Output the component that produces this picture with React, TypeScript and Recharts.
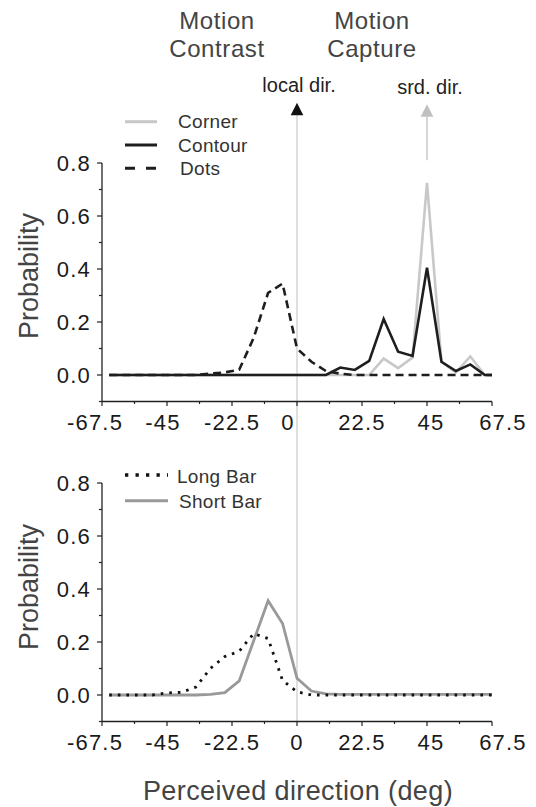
import { LineChart, Line, XAxis, YAxis, ReferenceLine, ReferenceDot } from 'recharts';

// perceived direction (deg), 5 deg bins plus the right edge
const angles = [-65, -60, -55, -50, -45, -40, -35, -30, -25, -20, -15, -10, -5, 0, 5, 10, 15, 20, 25, 30, 35, 40, 45, 50, 55, 60, 65, 67.5];

// top panel
const corner = [0, 0, 0, 0, 0, 0, 0, 0, 0, 0, 0, 0, 0, 0, 0, 0, 0, 0, 0, 0.062, 0.026, 0.066, 0.725, 0.05, 0.01, 0.07, 0, 0];
const contour = [0, 0, 0, 0, 0, 0, 0, 0, 0, 0, 0, 0, 0, 0, 0, 0, 0.028, 0.019, 0.053, 0.211, 0.088, 0.072, 0.405, 0.05, 0.015, 0.04, 0, 0];
const dots = [0, 0, 0, 0, 0, 0, 0, 0.005, 0.01, 0.02, 0.14, 0.31, 0.345, 0.1, 0.05, 0.015, 0.005, 0, 0, 0, 0, 0, 0, 0, 0, 0, 0, 0];

// bottom panel
const longBar = [0, 0, 0, 0, 0.008, 0.01, 0.03, 0.1, 0.145, 0.165, 0.232, 0.213, 0.055, 0.012, 0, 0, 0, 0, 0, 0, 0, 0, 0, 0, 0, 0, 0, 0];
const shortBar = [0, 0, 0, 0, 0, 0, 0, 0.002, 0.009, 0.053, 0.205, 0.356, 0.27, 0.063, 0.015, 0.004, 0.002, 0.002, 0.002, 0.002, 0.002, 0.002, 0.002, 0.002, 0.002, 0.002, 0.002, 0.002];

const xTicks = [-67.5, -56.25, -45, -33.75, -22.5, -11.25, 0, 11.25, 22.5, 33.75, 45, 56.25, 67.5];
const xLabels = [-67.5, -45, -22.5, 0, 22.5, 45, 67.5];
const yTicks = [-0.1, 0, 0.1, 0.2, 0.3, 0.4, 0.5, 0.6, 0.7, 0.8];

const topRows = angles.map((a, i) => ({ angle: a, corner: corner[i], contour: contour[i], dots: dots[i] }));
const bottomRows = angles.map((a, i) => ({ angle: a, longBar: longBar[i], shortBar: shortBar[i] }));

const FONT = '"Liberation Sans", Arial, Helvetica, sans-serif';
const AXIS = '#222';

// label nudges seen in the figure
const topNudge: Record<string, number> = { '-67.5': -7, '-45': -4, '0': -9, '45': 4, '67.5': 11 };
const bottomNudge: Record<string, number> = { '-67.5': -7, '-45': -4, '45': 4, '67.5': 11 };

const XTick = ({ x, y, payload, nudge }: any) => {
  const v = payload.value;
  const major = xLabels.includes(v);
  return (
    <g>
      <line x1={x} x2={x} y1={y} y2={y + (major ? 4.5 : 2.5)} stroke={AXIS} strokeWidth={1.2} />
      {major && (
        <text x={x + ((nudge && nudge[String(v)]) || 0)} y={y + 28} textAnchor="middle" fontFamily={FONT} fontSize={22} letterSpacing={1.2} fill="#1a1a1a">
          {v}
        </text>
      )}
    </g>
  );
};

const YTick = ({ x, y, payload }: any) => {
  const v = payload.value;
  const major = Math.round(v * 10) % 2 === 0;
  return (
    <g>
      <line x1={x - (major ? 5 : 3)} x2={x} y1={y} y2={y} stroke={AXIS} strokeWidth={1.2} />
      {major && (
        <text x={x - 11} y={y} dy="0.36em" textAnchor="end" fontFamily={FONT} fontSize={22} letterSpacing={1.2} fill="#1a1a1a">
          {v.toFixed(1)}
        </text>
      )}
    </g>
  );
};

const Arrow = ({ cx, cy, fill, text, tx }: any) => (
  <g>
    <path d={`M${cx - 6.3},${cy} L${cx},${cy - 12.5} L${cx + 6.3},${cy} Z`} fill={fill} />
    <text x={cx + tx} y={cy - 23} textAnchor="middle" fontFamily={FONT} fontSize={20} fill="#222">
      {text}
    </text>
  </g>
);

const axes = (nudge: Record<string, number>, xHeight: number) => [
  <XAxis
    key="x"
    type="number"
    dataKey="angle"
    domain={[-67.5, 67.5]}
    ticks={xTicks}
    interval={0}
    height={xHeight}
    tickSize={0}
    tickMargin={0}
    tickLine={false}
    axisLine={{ stroke: AXIS, strokeWidth: 1.3 }}
    tick={(p: any) => <XTick {...p} nudge={nudge} />}
  />,
  <YAxis
    key="y"
    type="number"
    domain={[-0.1, 0.8]}
    ticks={yTicks}
    interval={0}
    width={60}
    tickSize={0}
    tickMargin={0}
    tickLine={false}
    axisLine={{ stroke: AXIS, strokeWidth: 1.3 }}
    tick={(p: any) => <YTick {...p} />}
  />,
];

const TopPanel = () => (
  <LineChart width={536} height={440} data={topRows} margin={{ top: 163, right: 44, bottom: 0, left: 42 }}>
    <ReferenceLine segment={[{ x: 0, y: 0.98 }, { x: 0, y: -0.3 }]} stroke="#d4d4d4" strokeWidth={1.5} ifOverflow="visible" />
    <ReferenceLine segment={[{ x: 45, y: 0.975 }, { x: 45, y: 0.81 }]} stroke="#c8c8c8" strokeWidth={1.5} ifOverflow="visible" />
    {axes(topNudge, 38.5)}
    <Line type="linear" dataKey="corner" stroke="#c8c8c8" strokeWidth={2.6} dot={false} isAnimationActive={false} />
    <Line type="linear" dataKey="contour" stroke="#1e1e1e" strokeWidth={2.6} dot={false} isAnimationActive={false} />
    <Line type="linear" dataKey="dots" stroke="#1e1e1e" strokeWidth={2.6} strokeDasharray="8 5" dot={false} isAnimationActive={false} />
    <ReferenceDot x={0} y={0.98} ifOverflow="visible" shape={(p: any) => <Arrow {...p} fill="#111" text="local dir." tx={2} />} />
    <ReferenceDot x={45} y={0.975} ifOverflow="visible" shape={(p: any) => <Arrow {...p} fill="#c0c0c0" text="srd. dir." tx={3} />} />
  </LineChart>
);

const BottomPanel = () => (
  <LineChart width={536} height={367} data={bottomRows} margin={{ top: 43, right: 44, bottom: 0, left: 42 }}>
    <ReferenceLine segment={[{ x: 0, y: -0.1 }, { x: 0, y: 1.0 }]} stroke="#d4d4d4" strokeWidth={1.5} ifOverflow="visible" />
    {axes(bottomNudge, 85.5)}
    <Line type="linear" dataKey="shortBar" stroke="#999" strokeWidth={2.8} dot={false} isAnimationActive={false} />
    <Line type="linear" dataKey="longBar" stroke="#111" strokeWidth={2.8} strokeDasharray="2.6 6" dot={false} isAnimationActive={false} />
  </LineChart>
);

const Overlay = () => (
  <svg width={536} height={807} style={{ position: 'absolute', left: 0, top: 0, pointerEvents: 'none' }} fontFamily={FONT}>
    <g fontSize={24} letterSpacing={0.6} fill="#444" textAnchor="middle">
      <text x={217} y={28.5}>Motion</text>
      <text x={217} y={56.7}>Contrast</text>
      <text x={372} y={28.5}>Motion</text>
      <text x={372} y={56.7}>Capture</text>
    </g>
    <g fontSize={19} letterSpacing={0.3} fill="#333">
      <line x1={125} x2={157} y1={121.7} y2={121.7} stroke="#c8c8c8" strokeWidth={3} />
      <text x={178} y={128.3}>Corner</text>
      <line x1={125} x2={157} y1={145} y2={145} stroke="#1e1e1e" strokeWidth={3} />
      <text x={178} y={151.7}>Contour</text>
      <line x1={125} x2={157} y1={168.3} y2={168.3} stroke="#1e1e1e" strokeWidth={3} strokeDasharray="10 11" />
      <text x={180} y={175}>Dots</text>
      <line x1={125} x2={168} y1={475} y2={475} stroke="#111" strokeWidth={3.3} strokeDasharray="3.3 7.2" />
      <text x={177} y={483.3}>Long Bar</text>
      <line x1={125} x2={168} y1={500.7} y2={500.7} stroke="#999" strokeWidth={3} />
      <text x={179} y={508.3}>Short Bar</text>
    </g>
    <g fontSize={27} fill="#444" textAnchor="middle">
      <text x={38} y={276} transform="rotate(-90 38 276)">Probability</text>
      <text x={38} y={587} transform="rotate(-90 38 587)">Probability</text>
      <text x={298} y={800} letterSpacing={0.4}>Perceived direction (deg)</text>
    </g>
  </svg>
);

export default function App() {
  return (
    <div style={{ position: 'absolute', left: 0, top: 0, width: 536, height: 807, background: '#fff' }}>
      <div style={{ position: 'absolute', left: 0, top: 0 }}>
        <TopPanel />
      </div>
      <div style={{ position: 'absolute', left: 0, top: 440 }}>
        <BottomPanel />
      </div>
      <Overlay />
    </div>
  );
}
